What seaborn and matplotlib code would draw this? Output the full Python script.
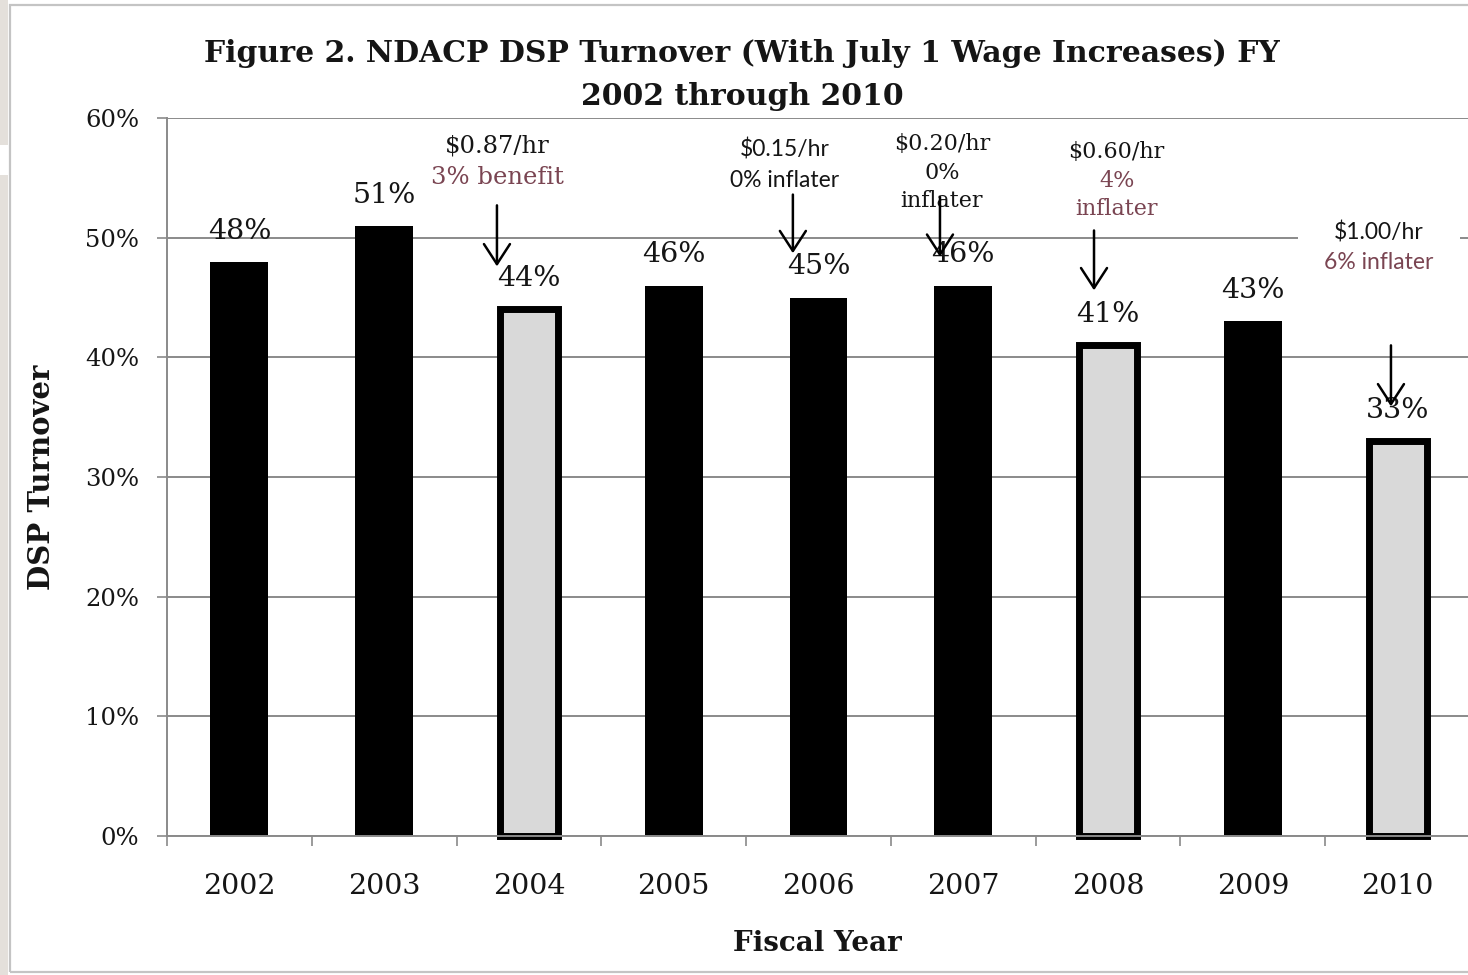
import matplotlib
matplotlib.use("Agg")
import matplotlib.pyplot as plt
import numpy as np
import pandas as pd
import seaborn as sns
from matplotlib.ticker import PercentFormatter
from matplotlib.patches import Rectangle

# ---- data -------------------------------------------------------------
years = ["2002", "2003", "2004", "2005", "2006", "2007", "2008", "2009", "2010"]
turnover_pct = [48, 51, 44, 46, 45, 46, 41, 43, 33]
bar_group = ["base", "base", "raise", "base", "base", "base", "raise", "base", "raise"]
y_ticks = [0, 10, 20, 30, 40, 50, 60]

note_years = ["2004", "2006", "2007", "2008", "2010"]
note_texts = [
    ["$0.87/hr", "3% benefit"],
    ["$0.15/hr", "0% inflater"],
    ["$0.20/hr", "0%", "inflater"],
    ["$0.60/hr", "4%", "inflater"],
    ["$1.00/hr", "6% inflater"],
]

title = "Figure 2. NDACP DSP Turnover (With July 1 Wage Increases) FY\n2002 through 2010"

# ---- styling ----------------------------------------------------------
SERIF = "DejaVu Serif"
SANS = "Lato"
INK = "#151515"
MAUVE = "#7a4552"
GRID = "#8a8a8a"

plt.rcParams["font.family"] = [SERIF, "DejaVu Sans"]

# layout of each wage note: text offset from bar centre, line positions,
# arrow offset and arrow span (all in data units)
note_layout = [
    dict(dx=-0.221, ys=[57.7, 55.0], family=SERIF, size=17.5, colors=[INK, MAUVE],
         adx=-0.221, arrow=(52.7, 47.6)),
    dict(dx=-0.232, ys=[57.4, 54.8], family=SANS, size=16.5, colors=[INK, INK],
         adx=-0.177, arrow=(53.6, 48.7)),
    dict(dx=-0.147, ys=[57.8, 55.4, 53.05], family=SERIF, size=16, colors=[INK, INK, INK],
         adx=-0.161, arrow=(53.4, 48.4)),
    dict(dx=0.06, ys=[57.2, 54.7, 52.4], family=SERIF, size=16, colors=[INK, MAUVE, MAUVE],
         adx=-0.097, arrow=(50.6, 45.6)),
    dict(dx=-0.13, ys=[50.4, 47.9], family=SANS, size=16.5, colors=[INK, MAUVE],
         adx=-0.046, arrow=(41.0, 35.9)),
]

W, H = 1468, 975
fig = plt.figure(figsize=(W / 100, H / 100), dpi=100)
fig.patch.set_facecolor("white")

# window frame around the chart
fig.add_artist(Rectangle((0, 0), 8 / W, (H - 175) / H, transform=fig.transFigure,
                         facecolor="#e4e0db", edgecolor="none"))
fig.add_artist(Rectangle((0, (H - 145) / H), 8 / W, 145 / H, transform=fig.transFigure,
                         facecolor="#e4e0db", edgecolor="none"))
fig.add_artist(Rectangle((10 / W, 3 / H), (W - 10) / W + 0.01, (H - 8) / H,
                         transform=fig.transFigure, fill=False,
                         edgecolor="#c4c4c4", linewidth=1.6))

ax = fig.add_axes([167 / W, 139 / H, 1303 / W, 718 / H])

df = pd.DataFrame({"year": years, "turnover": turnover_pct, "group": bar_group})
sns.barplot(data=df, x="year", y="turnover", hue="group", order=years,
            palette={"base": "black", "raise": "#d9d9d9"}, dodge=False,
            width=0.4, saturation=1, legend=False, ax=ax, zorder=2)

for p in ax.patches:
    h = p.get_height()
    if not np.isfinite(h) or h == 0:
        continue
    i = int(round(p.get_x() + p.get_width() / 2))
    if bar_group[i] == "raise":
        p.set_edgecolor("black")
        p.set_linewidth(5)
        p.set_clip_on(False)
    else:
        p.set_linewidth(0)

ax.set_xlim(-0.5, len(years) - 0.5)
ax.set_ylim(0, 60)
ax.set_yticks(y_ticks)
ax.yaxis.set_major_formatter(PercentFormatter(decimals=0))
ax.set_xticks(np.arange(-0.5, len(years) + 0.5, 1), minor=True)

ax.yaxis.grid(True, color=GRID, linewidth=1.4)
ax.xaxis.grid(False)
ax.set_axisbelow(True)
for side in ("top", "right"):
    ax.spines[side].set_visible(False)
for side in ("left", "bottom"):
    ax.spines[side].set_color(GRID)
    ax.spines[side].set_linewidth(1.4)

ax.tick_params(axis="y", direction="out", length=7, width=1.2, color=GRID,
               pad=13, labelsize=17.5, labelcolor=INK)
ax.tick_params(axis="x", which="major", length=0, pad=27, labelsize=20.5, labelcolor=INK)
ax.tick_params(axis="x", which="minor", direction="out", length=7, width=1.2, color=GRID)

ax.set_xlabel("Fiscal Year", fontsize=20, fontweight="bold", color=INK)
ax.xaxis.label.set_va("center")
ax.xaxis.set_label_coords(0.4988, -0.150)
ax.set_ylabel("DSP Turnover", fontsize=21, fontweight="bold", color=INK)
ax.yaxis.label.set_va("center")
ax.yaxis.set_label_coords(-0.096, 0.5)

fig.text(742 / W, 1 - 75 / H, title, ha="center", va="center", fontsize=21.5,
         fontweight="bold", color=INK, linespacing=1.62)

# value labels above the bars
for i, v in enumerate(turnover_pct):
    ax.annotate(f"{v}%", xy=(i, v), xytext=(0, 22), textcoords="offset points",
                ha="center", va="center", fontsize=20.5, color=INK, zorder=4)

# white backing behind the last note (breaks the gridline)
ax.add_patch(Rectangle((7.31, 46.0), 1.12, 6.3, facecolor="white",
                       edgecolor="none", zorder=1.5))

# wage-increase notes with arrows
for year, lines, lay in zip(note_years, note_texts, note_layout):
    i = years.index(year)
    for txt, y, c in zip(lines, lay["ys"], lay["colors"]):
        ax.text(i + lay["dx"], y, txt, ha="center", va="center",
                fontsize=lay["size"], family=[lay["family"], "DejaVu Sans"],
                color=c, parse_math=False, zorder=4, clip_on=False)
    y0, y1 = lay["arrow"]
    ax.annotate("", xy=(i + lay["adx"], y1), xytext=(i + lay["adx"], y0),
                arrowprops=dict(arrowstyle="->,head_length=0.4,head_width=0.26",
                                mutation_scale=36, lw=1.8, color="black",
                                shrinkA=0, shrinkB=0), zorder=5)

fig.savefig("out.png", dpi=100)
